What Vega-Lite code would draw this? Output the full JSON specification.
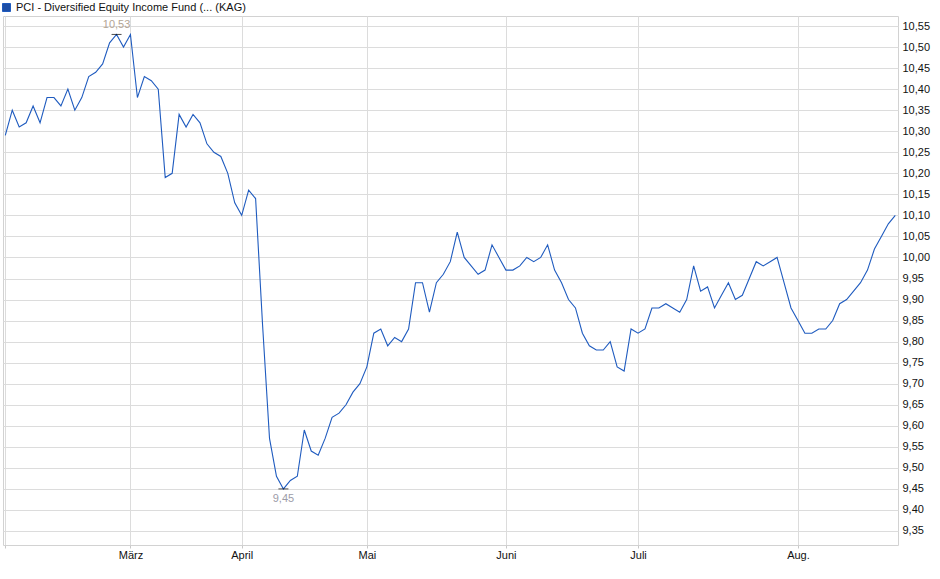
{
  "$schema": "https://vega.github.io/schema/vega-lite/v6.json",
  "width": 895,
  "height": 529,
  "autosize": {"type": "none"},
  "padding": {"left": 3, "top": 16, "right": 42, "bottom": 34},
  "background": "white",
  "datasets": {
    "kurs": [
      {"t": 1, "kurs": 10.29}, {"t": 2, "kurs": 10.35}, {"t": 3, "kurs": 10.31}, {"t": 4, "kurs": 10.32},
      {"t": 5, "kurs": 10.36}, {"t": 6, "kurs": 10.32}, {"t": 7, "kurs": 10.38}, {"t": 8, "kurs": 10.38},
      {"t": 9, "kurs": 10.36}, {"t": 10, "kurs": 10.40}, {"t": 11, "kurs": 10.35}, {"t": 12, "kurs": 10.38},
      {"t": 13, "kurs": 10.43}, {"t": 14, "kurs": 10.44}, {"t": 15, "kurs": 10.46}, {"t": 16, "kurs": 10.51},
      {"t": 17, "kurs": 10.53}, {"t": 18, "kurs": 10.50}, {"t": 19, "kurs": 10.53}, {"t": 20, "kurs": 10.38},
      {"t": 21, "kurs": 10.43}, {"t": 22, "kurs": 10.42}, {"t": 23, "kurs": 10.40}, {"t": 24, "kurs": 10.19},
      {"t": 25, "kurs": 10.20}, {"t": 26, "kurs": 10.34}, {"t": 27, "kurs": 10.31}, {"t": 28, "kurs": 10.34},
      {"t": 29, "kurs": 10.32}, {"t": 30, "kurs": 10.27}, {"t": 31, "kurs": 10.25}, {"t": 32, "kurs": 10.24},
      {"t": 33, "kurs": 10.20}, {"t": 34, "kurs": 10.13}, {"t": 35, "kurs": 10.10}, {"t": 36, "kurs": 10.16},
      {"t": 37, "kurs": 10.14}, {"t": 38, "kurs": 9.84}, {"t": 39, "kurs": 9.57}, {"t": 40, "kurs": 9.48},
      {"t": 41, "kurs": 9.45}, {"t": 42, "kurs": 9.47}, {"t": 43, "kurs": 9.48}, {"t": 44, "kurs": 9.59},
      {"t": 45, "kurs": 9.54}, {"t": 46, "kurs": 9.53}, {"t": 47, "kurs": 9.57}, {"t": 48, "kurs": 9.62},
      {"t": 49, "kurs": 9.63}, {"t": 50, "kurs": 9.65}, {"t": 51, "kurs": 9.68}, {"t": 52, "kurs": 9.70},
      {"t": 53, "kurs": 9.74}, {"t": 54, "kurs": 9.82}, {"t": 55, "kurs": 9.83}, {"t": 56, "kurs": 9.79},
      {"t": 57, "kurs": 9.81}, {"t": 58, "kurs": 9.80}, {"t": 59, "kurs": 9.83}, {"t": 60, "kurs": 9.94},
      {"t": 61, "kurs": 9.94}, {"t": 62, "kurs": 9.87}, {"t": 63, "kurs": 9.94}, {"t": 64, "kurs": 9.96},
      {"t": 65, "kurs": 9.99}, {"t": 66, "kurs": 10.06}, {"t": 67, "kurs": 10.00}, {"t": 68, "kurs": 9.98},
      {"t": 69, "kurs": 9.96}, {"t": 70, "kurs": 9.97}, {"t": 71, "kurs": 10.03}, {"t": 72, "kurs": 10.00},
      {"t": 73, "kurs": 9.97}, {"t": 74, "kurs": 9.97}, {"t": 75, "kurs": 9.98}, {"t": 76, "kurs": 10.00},
      {"t": 77, "kurs": 9.99}, {"t": 78, "kurs": 10.00}, {"t": 79, "kurs": 10.03}, {"t": 80, "kurs": 9.97},
      {"t": 81, "kurs": 9.94}, {"t": 82, "kurs": 9.90}, {"t": 83, "kurs": 9.88}, {"t": 84, "kurs": 9.82},
      {"t": 85, "kurs": 9.79}, {"t": 86, "kurs": 9.78}, {"t": 87, "kurs": 9.78}, {"t": 88, "kurs": 9.80},
      {"t": 89, "kurs": 9.74}, {"t": 90, "kurs": 9.73}, {"t": 91, "kurs": 9.83}, {"t": 92, "kurs": 9.82},
      {"t": 93, "kurs": 9.83}, {"t": 94, "kurs": 9.88}, {"t": 95, "kurs": 9.88}, {"t": 96, "kurs": 9.89},
      {"t": 97, "kurs": 9.88}, {"t": 98, "kurs": 9.87}, {"t": 99, "kurs": 9.90}, {"t": 100, "kurs": 9.98},
      {"t": 101, "kurs": 9.92}, {"t": 102, "kurs": 9.93}, {"t": 103, "kurs": 9.88}, {"t": 104, "kurs": 9.91},
      {"t": 105, "kurs": 9.94}, {"t": 106, "kurs": 9.90}, {"t": 107, "kurs": 9.91}, {"t": 108, "kurs": 9.95},
      {"t": 109, "kurs": 9.99}, {"t": 110, "kurs": 9.98}, {"t": 111, "kurs": 9.99}, {"t": 112, "kurs": 10.00},
      {"t": 113, "kurs": 9.94}, {"t": 114, "kurs": 9.88}, {"t": 115, "kurs": 9.85}, {"t": 116, "kurs": 9.82},
      {"t": 117, "kurs": 9.82}, {"t": 118, "kurs": 9.83}, {"t": 119, "kurs": 9.83}, {"t": 120, "kurs": 9.85},
      {"t": 121, "kurs": 9.89}, {"t": 122, "kurs": 9.90}, {"t": 123, "kurs": 9.92}, {"t": 124, "kurs": 9.94},
      {"t": 125, "kurs": 9.97}, {"t": 126, "kurs": 10.02}, {"t": 127, "kurs": 10.05}, {"t": 128, "kurs": 10.08},
      {"t": 129, "kurs": 10.10}
    ],
    "extrema": [
      {"t": 17, "kurs": 10.53, "typ": "max", "label": "10,53"},
      {"t": 41, "kurs": 9.45, "typ": "min", "label": "9,45"}
    ]
  },
  "encoding": {
    "x": {
      "field": "t",
      "type": "quantitative",
      "scale": {"domain": [0.67, 129.39], "nice": false, "zero": false},
      "axis": {
        "title": null,
        "values": [1, 19, 35, 53, 73, 92, 115],
        "labelExpr": "datum.value == 19 ? 'März' : datum.value == 35 ? 'April' : datum.value == 53 ? 'Mai' : datum.value == 73 ? 'Juni' : datum.value == 92 ? 'Juli' : datum.value == 115 ? 'Aug.' : ''",
        "domain": false,
        "grid": true,
        "gridColor": "#dcdcdc",
        "tickColor": "#c8c8c8",
        "tickSize": 3,
        "labelPadding": 1,
        "labelFont": "Liberation Sans",
        "labelFontSize": 11,
        "labelColor": "#111111",
        "labelFlush": false,
        "labelOverlap": false
      }
    },
    "y": {
      "field": "kurs",
      "type": "quantitative",
      "scale": {"domain": [9.3167, 10.5738], "nice": false, "zero": false},
      "axis": {
        "title": null,
        "orient": "right",
        "values": [9.35, 9.4, 9.45, 9.5, 9.55, 9.6, 9.65, 9.7, 9.75, 9.8, 9.85, 9.9, 9.95, 10.0, 10.05, 10.1, 10.15, 10.2, 10.25, 10.3, 10.35, 10.4, 10.45, 10.5, 10.55],
        "labelExpr": "replace(format(datum.value, '.2f'), '.', ',')",
        "domain": false,
        "ticks": false,
        "grid": true,
        "gridColor": "#dcdcdc",
        "labelPadding": 4,
        "labelFont": "Liberation Sans",
        "labelFontSize": 11,
        "labelColor": "#111111",
        "labelFlush": false,
        "labelOverlap": false
      }
    }
  },
  "layer": [
    {
      "data": {"name": "kurs"},
      "mark": {"type": "line", "strokeWidth": 1.1, "interpolate": "linear"},
      "encoding": {
        "color": {
          "datum": "PCI - Diversified Equity Income Fund (... (KAG)",
          "type": "nominal",
          "scale": {"range": ["#1f5bbf"]},
          "legend": {
            "title": null,
            "orient": "none",
            "legendX": -2,
            "legendY": -14,
            "padding": 0,
            "symbolType": "square",
            "symbolSize": 64,
            "symbolFillColor": "#1d4ea6",
            "symbolStrokeColor": "#0f2d6b",
            "symbolStrokeWidth": 1,
            "symbolOffset": 0,
            "labelFont": "Liberation Sans",
            "labelFontSize": 11,
            "labelColor": "#111111",
            "labelOffset": 4,
            "labelLimit": 500,
            "encode": {
              "symbols": {"update": {"fill": {"value": "#1d4ea6"}, "stroke": {"value": "#0f2d6b"}}}
            }
          }
        }
      }
    },
    {
      "data": {"name": "extrema"},
      "mark": {"type": "tick", "orient": "horizontal", "size": 10, "thickness": 1, "color": "#000000"}
    },
    {
      "data": {"name": "extrema"},
      "transform": [{"filter": "datum.typ == 'max'"}],
      "mark": {"type": "text", "baseline": "bottom", "dy": -4, "font": "Liberation Sans", "fontSize": 11, "color": "#b3a594"},
      "encoding": {"text": {"field": "label"}}
    },
    {
      "data": {"name": "extrema"},
      "transform": [{"filter": "datum.typ == 'min'"}],
      "mark": {"type": "text", "baseline": "top", "dy": 4, "font": "Liberation Sans", "fontSize": 11, "color": "#9c9ca8"},
      "encoding": {"text": {"field": "label"}}
    }
  ],
  "config": {
    "view": {"stroke": "#d2d2d2", "strokeWidth": 1}
  }
}
